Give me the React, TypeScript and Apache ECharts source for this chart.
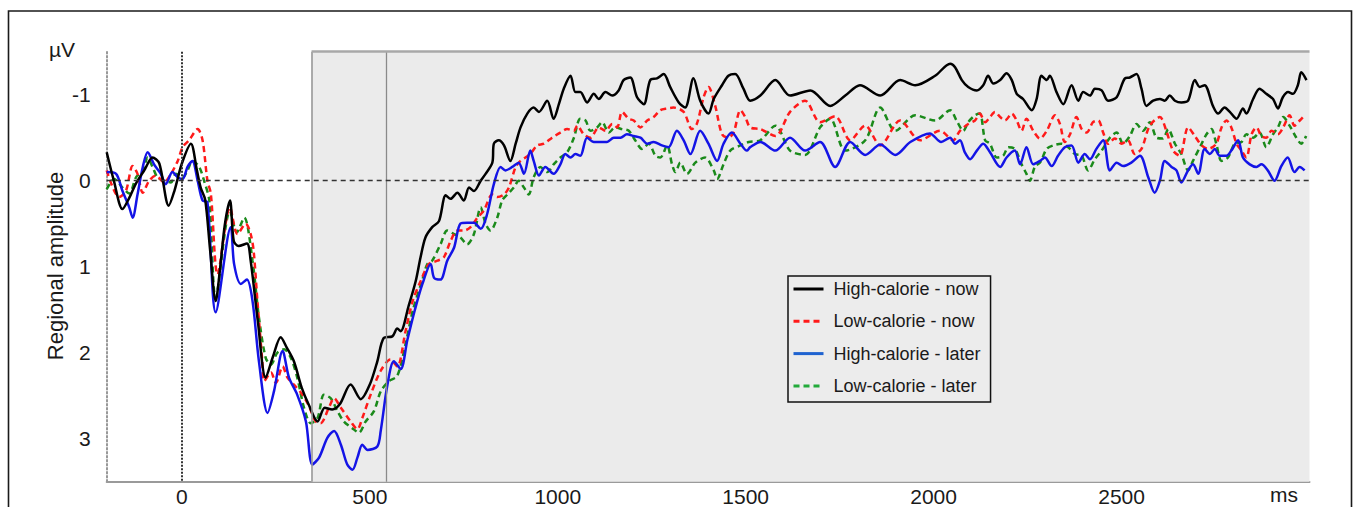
import React, { useEffect, useRef } from "react";
import * as echarts from "echarts";

const seriesNames = ["High-calorie - now", "Low-calorie - now", "High-calorie - later", "Low-calorie - later"];

// [ms, µV]
const highNow: [number, number][] = [
  [-200,-0.33],[-181,0.0],[-158,0.33],[-140,0.2],[-122,0.03],[-100,-0.12],[-78,-0.27],[-60,-0.2],[-35,0.29],[-20,0.12],[0,-0.2],[24,-0.43],[40,-0.12],[50,0.08],[62,0.22],[75,0.8],[90,1.4],[101,1.05],[114,0.52],[128,0.23],[138,0.7],[151,0.76],[173,0.73],[183,0.93],[202,1.63],[223,2.29],[242,2.05],[263,1.82],[279,1.94],[298,2.1],[319,2.41],[337,2.6],[361,2.8],[380,2.64],[400,2.66],[420,2.6],[449,2.37],[476,2.54],[500,2.37],[520,2.1],[537,1.83],[560,1.81],[573,1.72],[582,1.75],[603,1.46],[622,1.17],[635,0.89],[648,0.66],[666,0.54],[684,0.47],[702,0.17],[715,0.21],[733,0.14],[750,0.23],[764,0.08],[777,0.12],[795,0.0],[808,-0.08],[826,-0.21],[830,-0.43],[843,-0.47],[857,-0.41],[874,-0.23],[888,-0.43],[901,-0.62],[919,-0.78],[936,-0.85],[950,-0.8],[972,-0.93],[989,-0.72],[1003,-0.89],[1016,-1.07],[1034,-1.22],[1047,-1.03],[1060,-1.03],[1078,-0.91],[1096,-1.01],[1109,-0.95],[1127,-1.03],[1145,-0.99],[1162,-1.05],[1175,-1.17],[1193,-1.2],[1211,-0.97],[1229,-0.89],[1246,-1.17],[1264,-1.19],[1282,-1.24],[1299,-1.09],[1322,-0.91],[1339,-0.85],[1361,-1.19],[1379,-0.93],[1401,-0.78],[1415,-0.95],[1437,-1.11],[1454,-1.22],[1472,-1.24],[1494,-1.07],[1512,-0.93],[1539,-0.99],[1579,-1.17],[1618,-0.99],[1672,-1.05],[1725,-0.87],[1765,-0.99],[1804,-1.11],[1858,-0.99],[1911,-1.17],[1951,-1.11],[2004,-1.22],[2044,-1.36],[2057,-1.32],[2075,-1.17],[2092,-1.09],[2115,-1.05],[2132,-1.11],[2145,-1.22],[2159,-1.13],[2177,-1.17],[2194,-1.25],[2208,-1.17],[2221,-1.01],[2238,-0.95],[2261,-0.82],[2274,-0.95],[2287,-1.22],[2301,-1.17],[2309,-1.22],[2327,-1.03],[2345,-0.89],[2367,-1.11],[2385,-0.93],[2398,-1.03],[2416,-0.99],[2429,-1.07],[2447,-1.05],[2464,-0.93],[2487,-0.97],[2509,-1.19],[2522,-1.2],[2540,-1.24],[2553,-1.07],[2566,-0.87],[2584,-0.93],[2602,-0.95],[2615,-0.93],[2628,-0.99],[2642,-0.93],[2659,-0.91],[2677,-0.93],[2695,-1.17],[2708,-1.09],[2721,-1.11],[2743,-0.87],[2757,-0.78],[2774,-0.85],[2788,-0.8],[2806,-0.72],[2823,-0.84],[2832,-0.78],[2850,-0.95],[2867,-1.07],[2885,-1.01],[2903,-0.95],[2916,-0.84],[2929,-0.97],[2943,-1.03],[2956,-1.01],[2969,-1.11],[2978,-1.26],[2992,-1.17]
];

const lowNow: [number, number][] = [
  [-200,-0.12],[-167,0.19],[-149,0.12],[-131,-0.17],[-118,-0.08],[-104,0.14],[-87,0.0],[-69,-0.06],[-47,0.02],[-29,-0.08],[-11,-0.23],[2,-0.39],[19,-0.47],[42,-0.6],[55,-0.47],[68,0.0],[77,0.15],[95,1.09],[128,0.31],[148,0.62],[170,0.5],[183,0.62],[191,0.82],[201,1.4],[214,2.1],[219,2.33],[237,2.23],[250,2.35],[268,2.16],[281,2.29],[298,2.37],[321,2.49],[338,2.62],[356,2.8],[369,2.82],[391,2.64],[405,2.53],[423,2.64],[449,2.8],[467,2.89],[480,2.76],[502,2.49],[529,2.21],[555,2.08],[573,2.16],[595,1.75],[614,1.4],[635,1.17],[657,0.97],[680,0.93],[697,0.89],[715,0.7],[733,0.58],[750,0.58],[768,0.54],[786,0.43],[803,0.35],[826,0.16],[839,0.19],[857,0.16],[870,0.08],[888,-0.16],[901,-0.23],[914,-0.27],[927,-0.31],[945,-0.41],[963,-0.43],[985,-0.5],[1007,-0.56],[1025,-0.6],[1043,-0.58],[1052,-0.64],[1069,-0.54],[1087,-0.5],[1109,-0.62],[1127,-0.58],[1145,-0.66],[1158,-0.62],[1171,-0.8],[1189,-0.72],[1202,-0.7],[1220,-0.62],[1238,-0.7],[1255,-0.74],[1273,-0.82],[1291,-0.84],[1308,-0.85],[1335,-0.8],[1357,-0.6],[1370,-0.66],[1388,-0.97],[1401,-1.09],[1419,-0.87],[1437,-0.54],[1454,-0.5],[1468,-0.56],[1486,-0.82],[1499,-0.74],[1512,-0.62],[1539,-0.6],[1579,-0.52],[1618,-0.8],[1658,-0.93],[1698,-0.68],[1738,-0.75],[1778,-0.47],[1818,-0.64],[1858,-0.41],[1911,-0.7],[1964,-0.47],[2017,-0.58],[2052,-0.47],[2070,-0.58],[2092,-0.66],[2110,-0.7],[2123,-0.78],[2137,-0.68],[2150,-0.74],[2163,-0.8],[2177,-0.74],[2190,-0.7],[2208,-0.78],[2221,-0.7],[2234,-0.58],[2247,-0.72],[2265,-0.58],[2283,-0.49],[2301,-0.58],[2323,-0.76],[2336,-0.66],[2349,-0.45],[2363,-0.54],[2380,-0.74],[2394,-0.6],[2407,-0.56],[2424,-0.68],[2438,-0.7],[2451,-0.56],[2464,-0.43],[2482,-0.49],[2500,-0.43],[2517,-0.47],[2535,-0.31],[2553,-0.37],[2575,-0.64],[2602,-0.74],[2619,-0.58],[2637,-0.35],[2655,-0.29],[2677,-0.62],[2695,-0.52],[2713,-0.41],[2730,-0.37],[2752,-0.43],[2766,-0.62],[2779,-0.7],[2792,-0.62],[2806,-0.43],[2819,-0.35],[2832,-0.27],[2846,-0.54],[2859,-0.62],[2872,-0.52],[2885,-0.5],[2899,-0.58],[2916,-0.54],[2930,-0.62],[2947,-0.76],[2960,-0.64],[2974,-0.7],[2987,-0.76]
];

const highLater: [number, number][] = [
  [-200,-0.1],[-175,-0.08],[-158,0.12],[-140,0.31],[-131,0.43],[-118,0.16],[-104,-0.16],[-91,-0.33],[-74,-0.19],[-56,-0.08],[-43,0.04],[-25,-0.1],[-11,-0.04],[2,-0.02],[15,-0.16],[28,-0.23],[42,0.0],[55,0.23],[68,0.25],[90,1.53],[130,0.54],[139,0.97],[157,1.2],[173,1.15],[188,1.4],[205,2.1],[228,2.7],[245,2.45],[268,1.98],[285,2.29],[307,2.49],[330,2.8],[347,3.3],[365,3.22],[387,2.99],[405,2.91],[423,3.07],[440,3.3],[454,3.36],[467,3.22],[480,3.07],[494,3.13],[520,3.09],[529,2.91],[547,2.37],[564,2.1],[582,2.19],[600,1.85],[620,1.5],[640,1.2],[662,0.97],[671,1.13],[688,1.15],[706,0.93],[724,0.78],[741,0.5],[759,0.49],[777,0.49],[795,0.56],[812,0.39],[830,0.04],[848,-0.16],[861,-0.12],[879,-0.16],[896,-0.21],[910,-0.08],[927,-0.35],[936,-0.23],[950,-0.06],[967,-0.16],[989,-0.08],[1007,-0.19],[1020,-0.31],[1034,-0.27],[1047,-0.31],[1060,-0.29],[1078,-0.5],[1096,-0.45],[1113,-0.45],[1131,-0.45],[1149,-0.5],[1167,-0.5],[1184,-0.54],[1202,-0.52],[1220,-0.5],[1238,-0.43],[1255,-0.45],[1277,-0.41],[1295,-0.39],[1317,-0.58],[1335,-0.47],[1353,-0.31],[1379,-0.58],[1401,-0.43],[1424,-0.23],[1441,-0.43],[1463,-0.56],[1486,-0.43],[1503,-0.35],[1512,-0.39],[1539,-0.45],[1579,-0.35],[1618,-0.5],[1658,-0.35],[1698,-0.45],[1738,-0.16],[1778,-0.45],[1818,-0.3],[1858,-0.42],[1898,-0.3],[1938,-0.45],[1990,-0.55],[2020,-0.45],[2044,-0.5],[2057,-0.43],[2070,-0.47],[2083,-0.33],[2097,-0.25],[2115,-0.35],[2132,-0.43],[2150,-0.33],[2177,-0.16],[2194,-0.27],[2216,-0.35],[2230,-0.19],[2247,-0.39],[2265,-0.19],[2283,-0.23],[2296,-0.27],[2314,-0.17],[2331,-0.29],[2349,-0.39],[2367,-0.41],[2385,-0.21],[2402,-0.31],[2416,-0.25],[2433,-0.37],[2451,-0.47],[2469,-0.12],[2487,-0.21],[2504,-0.17],[2526,-0.21],[2549,-0.29],[2571,-0.04],[2588,0.14],[2602,0.0],[2615,-0.23],[2633,-0.16],[2646,-0.12],[2659,0.02],[2677,-0.12],[2690,-0.19],[2704,-0.08],[2721,-0.37],[2735,-0.31],[2748,-0.37],[2761,-0.29],[2779,-0.29],[2792,-0.35],[2810,-0.47],[2823,-0.27],[2841,-0.19],[2859,-0.16],[2872,-0.19],[2889,-0.12],[2907,0.0],[2925,-0.17],[2942,-0.27],[2960,-0.1],[2974,-0.16],[2987,-0.12]
];

const lowLater: [number, number][] = [
  [-200,0.1],[-180,-0.02],[-158,0.08],[-140,0.15],[-122,-0.04],[-104,-0.12],[-91,-0.27],[-78,-0.16],[-65,-0.04],[-47,0.0],[-29,0.02],[-16,-0.08],[2,-0.04],[15,-0.12],[28,-0.23],[46,-0.16],[59,0.0],[73,0.23],[90,1.36],[128,0.35],[146,0.6],[166,0.43],[188,0.93],[205,1.59],[223,2.06],[237,2.14],[254,2.0],[272,1.96],[290,2.06],[307,2.29],[325,2.64],[343,2.82],[361,2.76],[378,2.49],[396,2.53],[414,2.68],[431,2.8],[454,2.88],[471,2.93],[489,2.8],[511,2.68],[529,2.45],[551,2.33],[573,2.27],[595,1.9],[615,1.5],[640,1.15],[653,0.97],[666,0.93],[688,0.74],[706,0.58],[724,0.62],[741,0.66],[759,0.74],[777,0.62],[795,0.31],[808,0.5],[821,0.58],[839,0.43],[852,0.23],[866,0.16],[883,0.08],[896,0.0],[910,0.08],[923,0.16],[936,-0.04],[954,-0.16],[972,-0.1],[989,-0.19],[1007,-0.27],[1025,-0.33],[1043,-0.5],[1060,-0.72],[1074,-0.7],[1087,-0.58],[1105,-0.62],[1118,-0.68],[1136,-0.56],[1153,-0.62],[1171,-0.6],[1189,-0.58],[1206,-0.47],[1224,-0.37],[1242,-0.43],[1260,-0.29],[1273,-0.27],[1291,-0.41],[1304,-0.19],[1313,-0.1],[1326,-0.21],[1344,-0.08],[1366,-0.21],[1392,-0.27],[1415,-0.12],[1424,-0.02],[1441,-0.19],[1459,-0.35],[1486,-0.41],[1508,-0.45],[1539,-0.47],[1579,-0.64],[1618,-0.35],[1658,-0.3],[1698,-0.62],[1725,-0.72],[1765,-0.35],[1818,-0.47],[1858,-0.85],[1898,-0.58],[1951,-0.76],[2004,-0.7],[2044,-0.82],[2061,-0.7],[2079,-0.58],[2092,-0.68],[2110,-0.76],[2123,-0.78],[2137,-0.47],[2150,-0.43],[2168,-0.27],[2185,-0.29],[2199,-0.39],[2216,-0.37],[2234,-0.19],[2247,-0.08],[2256,0.0],[2270,-0.17],[2283,-0.21],[2301,-0.37],[2318,-0.41],[2340,-0.43],[2358,-0.39],[2376,-0.31],[2394,-0.29],[2411,-0.12],[2429,-0.25],[2447,-0.35],[2469,-0.5],[2487,-0.56],[2504,-0.43],[2522,-0.52],[2540,-0.66],[2557,-0.58],[2575,-0.68],[2593,-0.5],[2610,-0.49],[2624,-0.6],[2642,-0.43],[2659,-0.31],[2677,-0.12],[2690,-0.23],[2713,-0.43],[2726,-0.54],[2739,-0.6],[2752,-0.43],[2766,-0.23],[2783,-0.27],[2801,-0.43],[2819,-0.45],[2832,-0.54],[2850,-0.5],[2867,-0.56],[2885,-0.39],[2903,-0.54],[2916,-0.62],[2930,-0.74],[2947,-0.64],[2965,-0.5],[2978,-0.43],[2991,-0.52]
];

const xTickLabels = [0, 500, 1000, 1500, 2000, 2500];
const yTickLabels = [-1, 0, 1, 2, 3];
const windowStartMs = 345;
const windowLineMs = 545;
const windowEndMs = 3000;

const FONT = "'Liberation Sans', Arial, Helvetica, sans-serif";

export default function App() {
  const ref = useRef<HTMLDivElement>(null);
  useEffect(() => {
    const chart = echarts.init(ref.current as HTMLDivElement, null, { renderer: "svg" });
    const mk = (name: string, data: [number, number][], color: string, dashed: boolean) => ({
      type: "line",
      name,
      data,
      symbol: "none",
      smooth: 0.3,
      silent: true,
      z: 3,
      lineStyle: { color, width: 2.5, type: dashed ? [6, 4] : "solid" },
      itemStyle: { color },
    });
    const hidden = { color: "rgba(0,0,0,0)", borderWidth: 0, opacity: 0 };
    chart.setOption({
      animation: false,
      backgroundColor: "#ffffff",
      textStyle: { fontFamily: FONT },
      grid: { left: 106.7, right: 44.5, top: 51.7, bottom: 25.3, containLabel: false },
      xAxis: {
        type: "value",
        min: -200,
        max: 3000,
        interval: 100,
        axisLine: { show: true, onZero: false, lineStyle: { color: "#9a9a9a", width: 2 } },
        axisTick: { show: false },
        splitLine: { show: false },
        axisLabel: {
          margin: 4,
          fontSize: 21,
          color: "#1a1a1a",
          fontFamily: FONT,
          formatter: (v: number) => (xTickLabels.includes(v) ? String(v) : ""),
        },
      },
      yAxis: {
        type: "value",
        inverse: true,
        min: -1.5,
        max: 3.5,
        interval: 0.5,
        axisLine: { show: true, onZero: false, lineStyle: { color: "#777777", width: 1.5, type: [2, 2] } },
        axisTick: { show: false },
        splitLine: { show: false },
        axisLabel: {
          margin: 16,
          fontSize: 21,
          color: "#1a1a1a",
          fontFamily: FONT,
          formatter: (v: number) => (yTickLabels.includes(v) ? String(v) : ""),
        },
      },
      legend: {
        orient: "vertical",
        left: 788,
        top: 276,
        padding: [4, 10, 7, 4],
        itemWidth: 30,
        itemHeight: 18,
        itemGap: 14.3,
        backgroundColor: "#ececec",
        borderColor: "#111111",
        borderWidth: 1.5,
        selectedMode: false,
        itemStyle: hidden,
        textStyle: { fontSize: 18, color: "#1a1a1a", fontFamily: FONT, padding: [0, 0, 0, 5] },
        data: [
          { name: seriesNames[0], itemStyle: hidden, lineStyle: { color: "#000000", width: 3 } },
          { name: seriesNames[1], itemStyle: hidden, lineStyle: { color: "#ff1a1a", width: 3, type: [6, 4] } },
          { name: seriesNames[2], itemStyle: hidden, lineStyle: { color: "#1f63d0", width: 3 } },
          { name: seriesNames[3], itemStyle: hidden, lineStyle: { color: "#22aa3a", width: 3, type: [6, 4] } },
        ],
      },
      graphic: [
        {
          type: "rect",
          silent: true,
          z: 100,
          shape: { x: 8.5, y: 11, width: 1343, height: 600 },
          style: { fill: "none", stroke: "#1a1a1a", lineWidth: 1.6 },
        },
        {
          type: "text",
          silent: true,
          x: 62,
          y: 49,
          style: { text: "µV", fontSize: 21, fontFamily: FONT, fill: "#1a1a1a", align: "center", verticalAlign: "middle" },
        },
        {
          type: "text",
          silent: true,
          x: 55,
          y: 266,
          rotation: Math.PI / 2,
          style: { text: "Regional amplitude", fontSize: 22, fontFamily: FONT, fill: "#1a1a1a", align: "center", verticalAlign: "middle" },
        },
        {
          type: "text",
          silent: true,
          x: 1284,
          y: 494,
          style: { text: "ms", fontSize: 21, fontFamily: FONT, fill: "#1a1a1a", align: "center", verticalAlign: "middle" },
        },
      ],
      series: [
        {
          type: "line",
          name: "window",
          data: [],
          silent: true,
          z: 1,
          markArea: {
            silent: true,
            itemStyle: { color: "#ebebeb" },
            data: [[{ xAxis: windowStartMs }, { xAxis: windowEndMs }]],
          },
          markLine: {
            silent: true,
            symbol: "none",
            label: { show: false },
            data: [
              { xAxis: windowStartMs, lineStyle: { color: "#999999", width: 1.6, type: "solid" } },
              { xAxis: windowLineMs, lineStyle: { color: "#8a8a8a", width: 1.3, type: "solid" } },
              [
                { coord: [windowStartMs, -1.5], lineStyle: { color: "#a8a8a8", width: 2.5, type: "solid" } },
                { coord: [windowEndMs, -1.5] },
              ],
              { yAxis: 0, lineStyle: { color: "#333333", width: 1.3, type: [5, 4] } },
              { xAxis: 0, lineStyle: { color: "#333333", width: 2, type: [2, 1.5] } },
            ],
          },
        },
        mk(seriesNames[3], lowLater, "#1a8a1a", true),
        mk(seriesNames[1], lowNow, "#ff1a1a", true),
        mk(seriesNames[2], highLater, "#1414e6", false),
        mk(seriesNames[0], highNow, "#000000", false),
      ],
    });
    return () => chart.dispose();
  }, []);
  return <div ref={ref} style={{ position: "absolute", left: 0, top: 0, width: 1354, height: 507 }} />;
}
